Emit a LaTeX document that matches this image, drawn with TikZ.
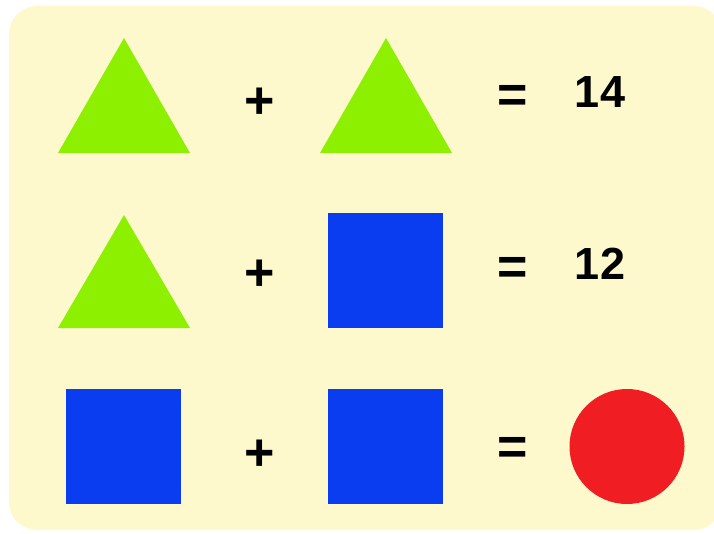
\documentclass[tikz,border=0pt]{standalone}
\usepackage{fontspec}
\setmainfont{Liberation Sans}
\usepackage{xcolor}
\usepackage{tikz}
\definecolor{paper}{HTML}{FDF9CD}
\definecolor{tri}{HTML}{8CF000}
\definecolor{sq}{HTML}{0A3CF0}
\definecolor{ball}{HTML}{F01E23}
\tikzset{
  tri/.style={fill=tri, draw=none},
  sq/.style={fill=sq, draw=none, minimum size=115pt, inner sep=0pt},
  ball/.style={circle, fill=ball, draw=none, minimum size=115pt, inner sep=0pt},
  op/.style={font=\fontsize{52}{52}\bfseries\selectfont, inner sep=0pt},
  num/.style={font=\fontsize{45}{45}\bfseries\selectfont, inner sep=0pt},
}

\begin{document}
\begin{tikzpicture}[x=1pt,y=-1pt]
  \useasboundingbox (0,0) rectangle (714,534);
  \fill[white] (0,0) rectangle (714,534);
  \fill[paper,rounded corners=28pt] (9,6) rectangle (722,530);

  % row 1
  \fill[tri] (58,153) -- (124,38) -- (190,153) -- cycle;
  \fill[tri] (320,153) -- (386,38) -- (452,153) -- cycle;
  \node[op] (p1) at (260,103) {+};
  \node[op] (e1) at (513,99) {=};
  \node[num] (n1) at (600,92) {14};

  % row 2
  \fill[tri] (58,328) -- (124,215) -- (190,328) -- cycle;
  \node[sq] (s1) at (385.5,270.5) {};
  \node[op] (p2) at (260,275) {+};
  \node[op] (e2) at (513,271) {=};
  \node[num] (n2) at (600,264) {12};

  % row 3
  \node[sq] (s2) at (123.5,446.5) {};
  \node[sq] (s3) at (385.5,446.5) {};
  \node[op] (p3) at (260,455) {+};
  \node[op] (e3) at (513,451) {=};
  \node[ball] (c1) at (627,446.5) {};
\end{tikzpicture}
\end{document}
